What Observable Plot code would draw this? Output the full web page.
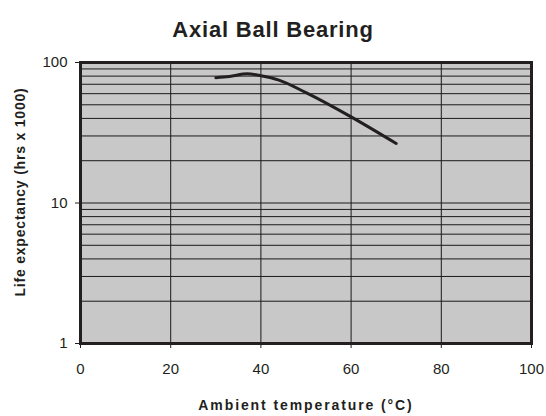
<!DOCTYPE html>
<html><head><meta charset="utf-8">
<script src="https://cdn.jsdelivr.net/npm/d3@7"></script>
<script src="https://cdn.jsdelivr.net/npm/@observablehq/plot@0.6"></script>
<style>
body{margin:0;background:#fff;font-family:"Liberation Sans",Arial,sans-serif;}
#wrap{position:relative;width:546px;height:416px;overflow:hidden;}
#title{position:absolute;top:18px;left:0;width:546px;text-align:center;font-weight:bold;font-size:22px;letter-spacing:0.8px;color:#231f20;line-height:24px;}
#ylab{position:absolute;left:-120px;top:183px;width:280px;height:18px;line-height:18px;text-align:center;font-weight:bold;font-size:14px;letter-spacing:0.8px;color:#231f20;transform:rotate(-90deg);transform-origin:50% 50%;white-space:nowrap;}
#chart{position:absolute;top:0;left:0;}
</style></head><body>
<div id="wrap"><div id="chart"></div><div id="title"></div><div id="ylab"></div></div>
<script>
const titleText = "Axial Ball Bearing";
const xLabel = "Ambient temperature (°C)";
const yLabel = "Life expectancy (hrs x 1000)";
const temperature = [30, 33, 37, 40, 44, 50, 60, 70];
const lifeExpectancy = [78, 79.5, 83, 80.5, 75, 61, 41, 26.5];
const xTicks = [0, 20, 40, 60, 80, 100];
const yTicks = [1, 10, 100];
const xGrid = [20, 40, 60, 80];
const yGrid = [2, 3, 4, 5, 6, 7, 8, 9, 10, 20, 30, 40, 50, 60, 70, 80, 90];

document.getElementById("title").textContent = titleText;
document.getElementById("ylab").textContent = yLabel;

const data = temperature.map((t, i) => ({t, v: lifeExpectancy[i]}));

const chart = Plot.plot({
  width: 546, height: 416,
  marginLeft: 80, marginRight: 15, marginTop: 62, marginBottom: 73,
  x: {domain: [0, 100]},
  y: {type: "log", domain: [1, 100]},
  style: {fontFamily: "'Liberation Sans', Arial, sans-serif", fontSize: "15px", color: "#231f20", background: "transparent"},
  marks: [
    Plot.frame({fill: "#c8c8c8"}),
    Plot.ruleY(yGrid, {stroke: "#1a1a1a", strokeWidth: 1}),
    Plot.ruleX(xGrid, {stroke: "#1a1a1a", strokeWidth: 1}),
    Plot.line(data, {x: "t", y: "v", stroke: "#231f20", strokeWidth: 3, curve: "monotone-x"}),
    Plot.frame({stroke: "#231f20", strokeWidth: 3}),
    Plot.axisX({ticks: xTicks, tickSize: 5, tickPadding: 15, label: null, stroke: "#231f20"}),
    Plot.axisY({ticks: yTicks, tickSize: 5, tickPadding: 8, tickFormat: d => String(d), label: null, stroke: "#231f20"}),
    Plot.text([xLabel], {frameAnchor: "bottom", dy: 66, fontWeight: "bold", fontSize: 14, className: "xlab"})
  ]
});
d3.select(chart).selectAll(".xlab text").style("letter-spacing", "1.9px");
document.getElementById("chart").appendChild(chart);
</script>
</body></html>
